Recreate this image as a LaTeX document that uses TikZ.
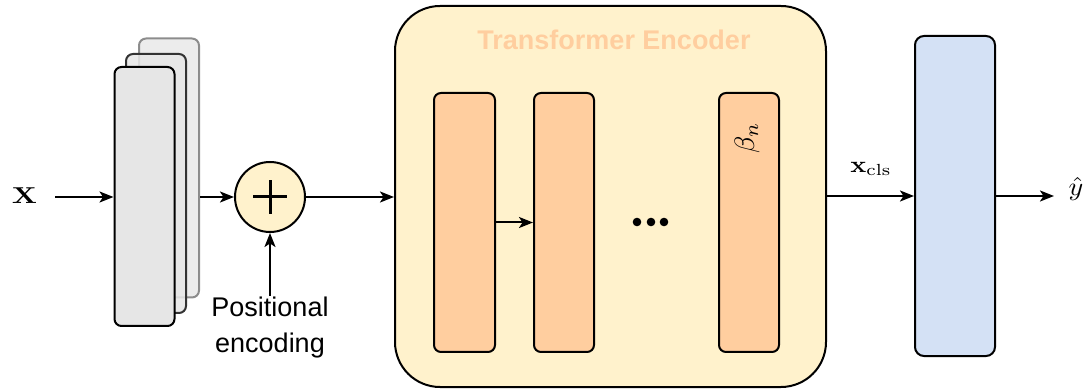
\documentclass[tikz,border=0pt]{standalone}
\usepackage[no-math]{fontspec}
\usepackage{graphicx}
\setmainfont{Liberation Sans}
\usetikzlibrary{arrows.meta}
\definecolor{stackfill}{HTML}{E6E6E6}
\definecolor{encfill}{HTML}{FFF2CC}
\definecolor{blockfill}{HTML}{FFCE9F}
\definecolor{headfill}{HTML}{D4E1F5}
\definecolor{titlecol}{HTML}{FFCE9F}
% math labels are set at 10pt and enlarged
\newcommand{\bigmath}[3]{\scalebox{#1}[#2]{$#3$}}
\tikzset{
  line/.style={line width=2pt},
  arr/.style={line, -{Stealth[length=14pt,width=11pt,inset=3.5pt]}},
  stackbox/.style={draw, line width=2pt, fill=stackfill, rounded corners=7pt, minimum width=60pt, minimum height=259pt, inner sep=0pt},
  layerbox/.style={draw, line width=2pt, fill=blockfill, rounded corners=7pt, minimum width=60pt, minimum height=259pt, inner sep=0pt},
  mathlbl/.style={inner sep=1pt},
}
\begin{document}
\begin{tikzpicture}[x=1pt,y=-1pt]
\useasboundingbox (0,0) rectangle (1088,390);

% stacked input embeddings
\node[stackbox, draw=black!55, fill opacity=0.75, draw opacity=0.8] (l3) at (169,168) {};
\node[stackbox, draw=black!80, fill opacity=0.85] (l2) at (156,183.5) {};
\node[stackbox] (l1) at (144.5,196.5) {};

\node[mathlbl] (x) at (24.5,196) {\bigmath{2.9}{2.3}{\mathbf{X}}};
\coordinate (xin) at (55,197);
\draw[arr] (xin) -- (l1.west |- xin);

% positional encoding sum
\node[draw, line width=2pt, fill=encfill, circle, minimum size=70pt, inner sep=0pt] (sum) at (270,197) {};
\draw[line width=3pt] ([xshift=-17pt]sum.center) -- ([xshift=17pt]sum.center);
\draw[line width=3pt] ([yshift=-17pt]sum.center) -- ([yshift=17pt]sum.center);
\draw[arr] (l3.east |- sum.west) -- (sum.west);

\node[align=center, font=\fontsize{27}{36}\selectfont, inner sep=1pt] (pe) at (270,328) {Positional\\encoding};
\draw[arr] (pe.north) -- (sum.south);

% encoder
\node[draw, line width=2pt, fill=encfill, rounded corners=45pt, minimum width=431pt, minimum height=381pt] (enc) at (610.5,196.5) {};
\node[text=titlecol, font=\fontsize{27}{32}\selectfont\bfseries] (title) at (614,40) {Transformer Encoder};
\draw[arr] (sum.east) -- (enc.west |- sum.east);

\node[layerbox, minimum width=61pt] (b1) at (464.5,222.5) {};
\node[layerbox] (b2) at (564,222.5) {};
\node[layerbox] (b3) at (749,222.5) {};
\draw[arr] (b1.east) -- (b2.west);
\node[mathlbl, rotate=90] (beta) at (747,138) {\bigmath{2.8}{2.8}{\beta_n}};
\foreach \dx in {637,651,664} \fill (\dx,222) circle (4.3pt);

% classification head
\node[draw, line width=2pt, fill=headfill, rounded corners=9pt, minimum width=80pt, minimum height=320pt, inner sep=0pt] (head) at (955,196) {};
\draw[arr] (enc.east |- head.west) -- (head.west);
\node[mathlbl] (xcls) at (871,169) {\bigmath{2.65}{2.3}{\mathbf{x}_{\mathrm{cls}}}};

\node[mathlbl] (yhat) at (1076,189) {\bigmath{2.8}{2.6}{\hat{y}}};
\coordinate (yin) at (1054,196);
\draw[arr] (head.east) -- (yin);
\end{tikzpicture}
\end{document}
